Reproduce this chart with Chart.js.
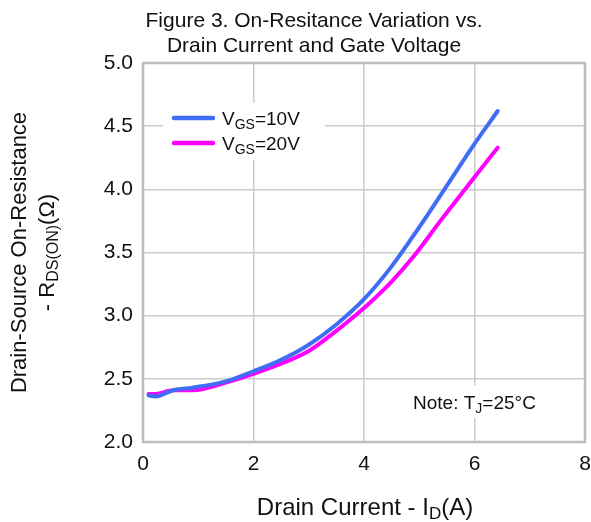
<!DOCTYPE html>
<html>
<head>
<meta charset="utf-8">
<script src="https://cdn.jsdelivr.net/npm/chart.js@4.4.1/dist/chart.umd.min.js"></script>
<style>
  html, body { margin: 0; padding: 0; background: #fff; }
</style>
</head>
<body>
<canvas id="chart" width="591" height="522"></canvas>
<script>
// Drain current (A) and on-resistance (ohm)
const idVgs10 = [0.1, 0.22, 0.55, 0.9, 1.5, 2.0, 2.5, 3.0, 3.5, 4.0, 4.5, 5.0, 5.5, 6.0, 6.42];
const rdsVgs10 = [2.37, 2.36, 2.41, 2.43, 2.48, 2.56, 2.65, 2.77, 2.93, 3.13, 3.39, 3.70, 4.03, 4.36, 4.62];
const idVgs20 = [0.1, 0.22, 0.55, 0.9, 1.5, 2.0, 2.5, 3.0, 3.5, 4.0, 4.5, 4.9, 5.4, 5.9, 6.42];
const rdsVgs20 = [2.38, 2.38, 2.41, 2.41, 2.47, 2.54, 2.62, 2.72, 2.88, 3.06, 3.27, 3.47, 3.76, 4.04, 4.33];

const xTicks = [0, 2, 4, 6, 8];
const yTicks = [2.0, 2.5, 3.0, 3.5, 4.0, 4.5, 5.0];

const titleLines = ['Figure 3. On-Resitance Variation vs.', 'Drain Current and Gate Voltage'];
const seriesNames = [
    [{ t: 'V' }, { t: 'GS', sub: true }, { t: '=10V' }],
    [{ t: 'V' }, { t: 'GS', sub: true }, { t: '=20V' }]
];
const xTitle = [{ t: 'Drain Current - I' }, { t: 'D', sub: true }, { t: '(A)' }];
const yTitle1 = [{ t: 'Drain-Source On-Resistance' }];
const yTitle2 = [{ t: '- R' }, { t: 'DS(ON)', sub: true }, { t: '(\u03A9)' }];
const noteText = [{ t: 'Note: T' }, { t: 'J', sub: true }, { t: '=25\u00B0C' }];

const FONT = '"Liberation Sans", Arial, sans-serif';
const TEXT = '#111';
const BLUE = '#3f6ef5';
const MAGENTA = '#ff00ff';
const GRID = '#cbcbcb';

function toPoints(xs, ys) {
    return xs.map((x, i) => ({ x: x, y: ys[i] }));
}

// draws text with subscript parts; y is the vertical centre of the normal text
function richText(ctx, parts, x, y, size, align) {
    let total = 0;
    parts.forEach(p => {
        ctx.font = (p.sub ? Math.round(size * 0.72) : size) + 'px ' + FONT;
        p.w = ctx.measureText(p.t).width;
        total += p.w;
    });
    let cx = x;
    if (align === 'center') cx = x - total / 2;
    if (align === 'right') cx = x - total;
    ctx.textAlign = 'left';
    ctx.textBaseline = 'alphabetic';
    ctx.fillStyle = TEXT;
    const base = y + size * 0.36;
    parts.forEach(p => {
        ctx.font = (p.sub ? Math.round(size * 0.72) : size) + 'px ' + FONT;
        ctx.fillText(p.t, cx, base + (p.sub ? size * 0.2 : 0));
        cx += p.w;
    });
}

const decorations = {
    id: 'decorations',
    beforeDatasetsDraw(chart) {
        const ctx = chart.ctx;
        const a = chart.chartArea;
        ctx.save();
        // white boxes behind legend and note
        ctx.fillStyle = '#fff';
        ctx.fillRect(163, 103, 162, 57);
        ctx.fillRect(400, 385, 160, 33);
        // frame
        ctx.strokeStyle = '#bdbdbd';
        ctx.lineWidth = 2.5;
        ctx.strokeRect(a.left, a.top, a.right - a.left, a.bottom - a.top);
        ctx.restore();
    },
    afterDraw(chart) {
        const ctx = chart.ctx;
        const a = chart.chartArea;
        const midY = (a.top + a.bottom) / 2;
        ctx.save();

        richText(ctx, [{ t: titleLines[0] }], 314, 19, 21, 'center');
        richText(ctx, [{ t: titleLines[1] }], 314, 44, 21, 'center');

        richText(ctx, xTitle, 365, 506, 24, 'center');

        ctx.save();
        ctx.translate(18, midY);
        ctx.rotate(-Math.PI / 2);
        richText(ctx, yTitle1, 0, 0, 22, 'center');
        ctx.restore();
        ctx.save();
        ctx.translate(46, midY);
        ctx.rotate(-Math.PI / 2);
        richText(ctx, yTitle2, 0, 0, 22, 'center');
        ctx.restore();

        // legend
        const colors = [BLUE, MAGENTA];
        [118, 143].forEach((ly, i) => {
            ctx.strokeStyle = colors[i];
            ctx.lineWidth = 4.5;
            ctx.lineCap = 'round';
            ctx.beginPath();
            ctx.moveTo(174, ly);
            ctx.lineTo(213, ly);
            ctx.stroke();
            richText(ctx, seriesNames[i], 222, ly, 19, 'left');
        });

        richText(ctx, noteText, 413, 402, 19, 'left');
        ctx.restore();
    }
};

const ctx = document.getElementById('chart').getContext('2d');
const chart = new Chart(ctx, {
    type: 'line',
    data: {
        datasets: [
            {
                label: 'VGS=10V',
                data: toPoints(idVgs10, rdsVgs10),
                borderColor: BLUE,
                borderWidth: 4,
                borderCapStyle: 'round',
                pointRadius: 0,
                cubicInterpolationMode: 'monotone',
                fill: false
            },
            {
                label: 'VGS=20V',
                data: toPoints(idVgs20, rdsVgs20),
                borderColor: MAGENTA,
                borderWidth: 4,
                borderCapStyle: 'round',
                pointRadius: 0,
                cubicInterpolationMode: 'monotone',
                fill: false
            }
        ]
    },
    options: {
        responsive: false,
        animation: false,
        devicePixelRatio: 1,
        layout: { padding: { left: 0, top: 63, right: 6, bottom: 0 } },
        plugins: {
            legend: { display: false },
            title: { display: false },
            tooltip: { enabled: false }
        },
        scales: {
            x: {
                type: 'linear',
                min: xTicks[0],
                max: xTicks[xTicks.length - 1],
                afterBuildTicks: s => { s.ticks = xTicks.map(v => ({ value: v })); },
                afterFit: s => { s.height = 80; s.paddingLeft = 0; s.paddingRight = 0; },
                ticks: {
                    color: TEXT,
                    font: { family: FONT, size: 21 },
                    padding: 10,
                    maxRotation: 0,
                    callback: v => String(v)
                },
                grid: { color: GRID, lineWidth: 1.5, drawTicks: false },
                border: { display: false }
            },
            y: {
                min: yTicks[0],
                max: yTicks[yTicks.length - 1],
                afterBuildTicks: s => { s.ticks = yTicks.map(v => ({ value: v })); },
                afterFit: s => { s.width = 143; s.paddingTop = 0; s.paddingBottom = 0; },
                ticks: {
                    color: TEXT,
                    font: { family: FONT, size: 21 },
                    padding: 10,
                    callback: v => Number(v).toFixed(1)
                },
                grid: { color: GRID, lineWidth: 1.5, drawTicks: false },
                border: { display: false }
            }
        }
    },
    plugins: [decorations]
});
</script>
</body>
</html>
